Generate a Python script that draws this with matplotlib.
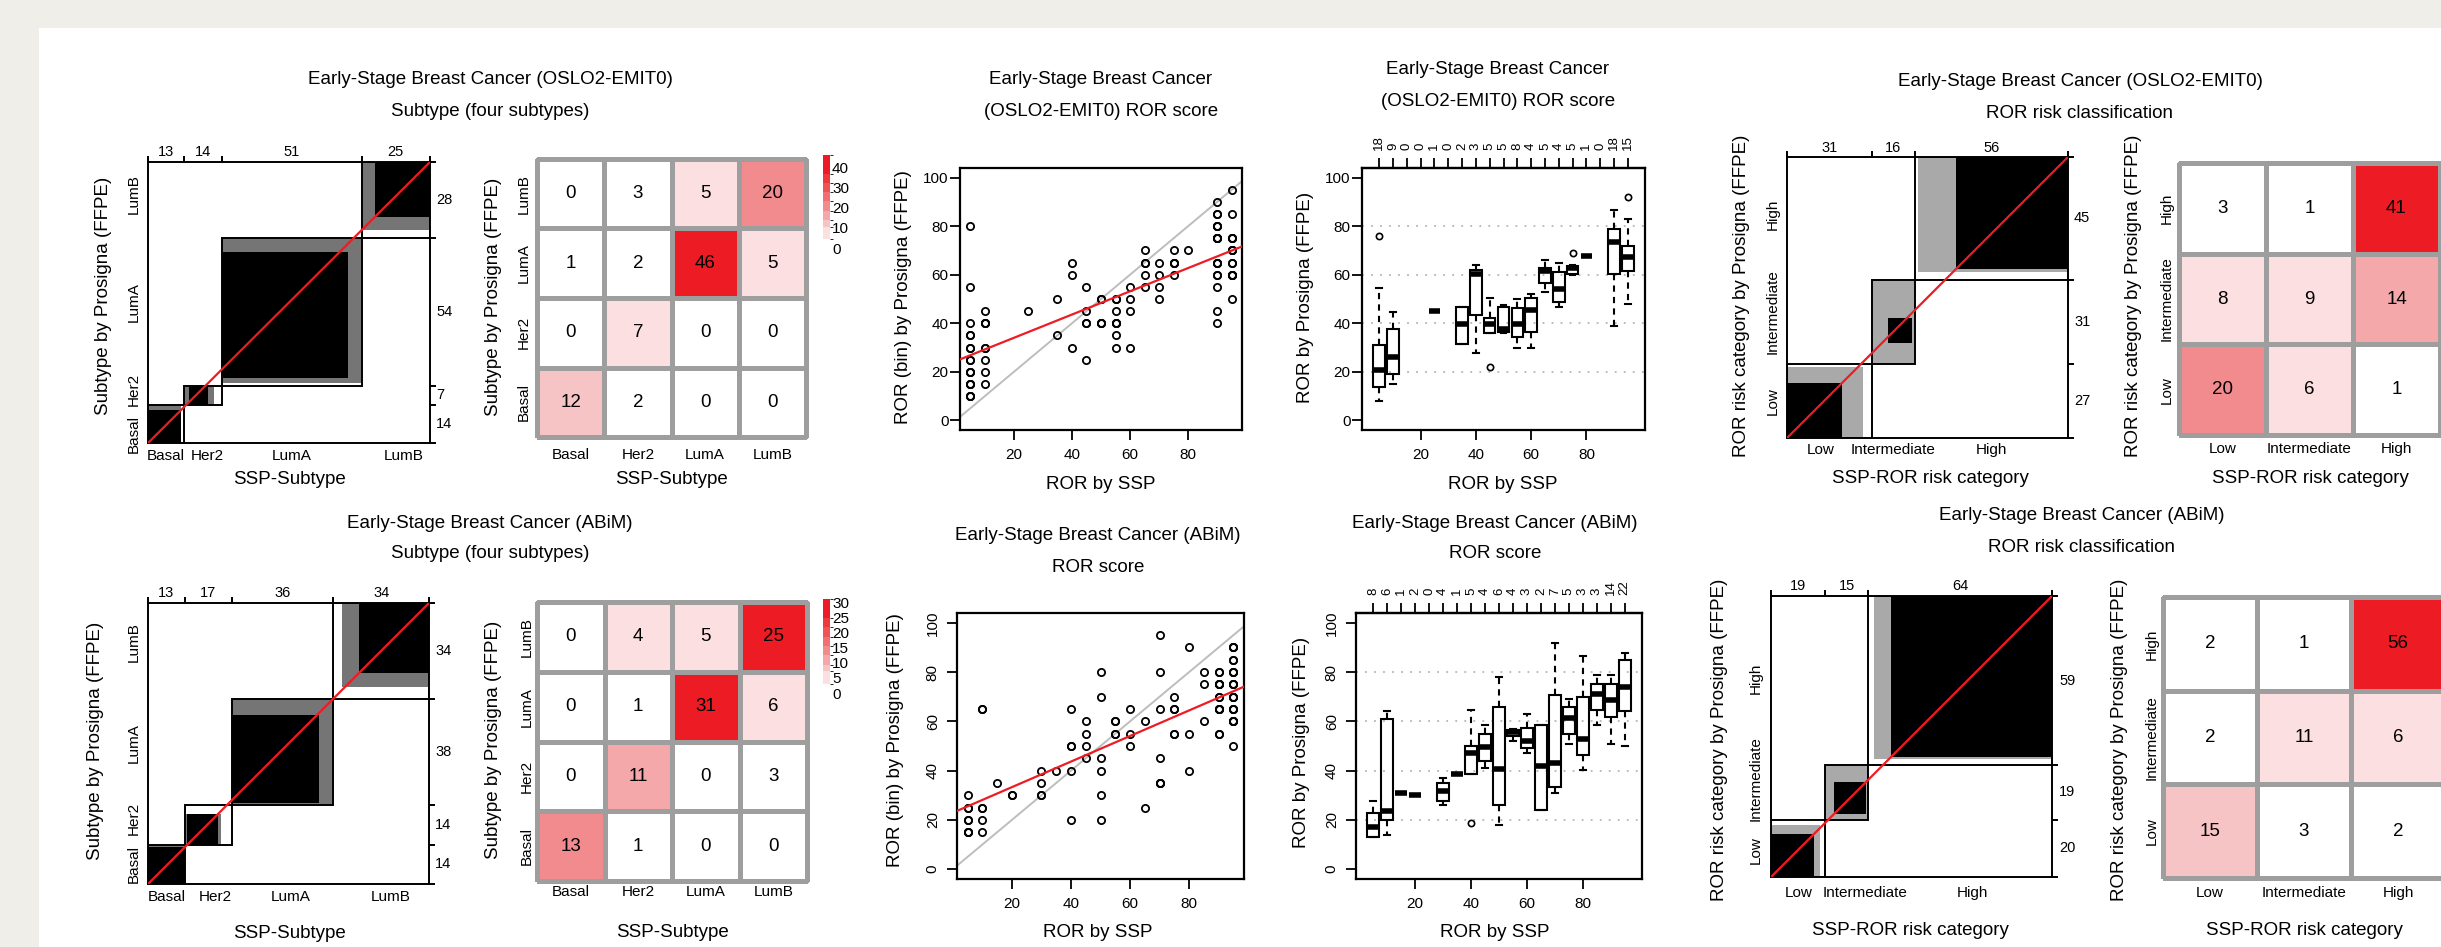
import numpy as np
import matplotlib
matplotlib.use('Agg')
import matplotlib.pyplot as plt
from matplotlib.patches import Rectangle
from matplotlib.colors import ListedColormap, BoundaryNorm
from matplotlib.cm import ScalarMappable

# ---------------------------------------------------------------- data
subtype_cats = ['Basal', 'Her2', 'LumA', 'LumB']
risk_cats = ['Low', 'Intermediate', 'High']

# rows: Prosigna (FFPE) category (bottom -> top); columns: SSP category (left -> right)
oslo_subtype = [[12, 2, 0, 0],
                [0, 7, 0, 0],
                [1, 2, 46, 5],
                [0, 3, 5, 20]]
abim_subtype = [[13, 1, 0, 0],
                [0, 11, 0, 3],
                [0, 1, 31, 6],
                [0, 4, 5, 25]]
oslo_risk = [[20, 6, 1],
             [8, 9, 14],
             [3, 1, 41]]
abim_risk = [[15, 3, 2],
             [2, 11, 6],
             [2, 1, 56]]

ror_bins = [5, 10, 15, 20, 25, 30, 35, 40, 45, 50, 55, 60, 65, 70, 75, 80, 85, 90, 95]
oslo_bin_counts = [18, 9, 0, 0, 1, 0, 2, 3, 5, 5, 8, 4, 5, 4, 5, 1, 0, 18, 15]
abim_bin_counts = [8, 6, 1, 2, 0, 4, 1, 5, 4, 6, 4, 3, 2, 7, 5, 3, 3, 14, 22]

# ROR (bin) by Prosigna, grouped by ROR-by-SSP bin
oslo_ror_bin = {
    5: [80, 55, 40, 35, 35, 30, 30, 25, 25, 20, 20, 20, 15, 15, 15, 10, 10, 10],
    10: [45, 40, 40, 40, 30, 30, 25, 20, 15],
    25: [45],
    35: [50, 35],
    40: [65, 60, 30],
    45: [55, 45, 40, 40, 25],
    50: [50, 50, 40, 40, 40],
    55: [50, 50, 45, 40, 40, 40, 35, 30],
    60: [55, 50, 45, 30],
    65: [70, 65, 65, 60, 55],
    70: [65, 60, 55, 50],
    75: [70, 65, 65, 65, 60],
    80: [70],
    90: [90, 85, 85, 80, 80, 80, 75, 75, 75, 75, 65, 65, 65, 60, 60, 55, 45, 40],
    95: [95, 85, 75, 75, 75, 70, 70, 70, 65, 65, 60, 60, 60, 60, 50],
}
abim_ror_bin = {
    5: [30, 25, 25, 20, 20, 15, 15, 15],
    10: [65, 65, 25, 25, 20, 15],
    15: [35],
    20: [30, 30],
    30: [40, 35, 30, 30],
    35: [40],
    40: [65, 50, 50, 40, 20],
    45: [60, 55, 50, 45],
    50: [80, 70, 45, 40, 30, 20],
    55: [60, 60, 55, 55],
    60: [65, 55, 50],
    65: [60, 25],
    70: [95, 80, 65, 45, 35, 35, 35],
    75: [70, 65, 65, 55, 55],
    80: [90, 55, 40],
    85: [80, 75, 60],
    90: [80, 80, 75, 75, 75, 75, 70, 70, 65, 65, 65, 65, 55, 55],
    95: [90, 90, 90, 85, 85, 80, 80, 80, 75, 75, 75, 70, 70, 70, 65, 65, 65, 60, 60, 60, 60, 50],
}

# box statistics of ROR by Prosigna per SSP bin
oslo_box_pos = [5, 10, 25, 35, 40, 45, 50, 55, 60, 65, 70, 75, 80, 90, 95]
oslo_whislo = [8.0, 15.0, 45, 31.6, 27.8, 35.8, 35.8, 29.8, 29.8, 53.0, 46.8, 60.0, 67.8, 38.9, 48.1]
oslo_q1 = [13.8, 19.0, 45, 31.6, 43.6, 36.0, 36.5, 34.4, 36.5, 56.8, 48.8, 60.1, 67.8, 60.1, 61.5]
oslo_med = [20.6, 26.1, 45, 39.9, 60.1, 39.9, 37.5, 39.9, 45.4, 61.6, 54.3, 62.6, 67.8, 73.6, 67.4]
oslo_q3 = [30.9, 37.8, 45, 46.8, 61.9, 42.0, 46.5, 46.4, 50.5, 62.6, 61.0, 63.7, 67.8, 78.8, 71.8]
oslo_whishi = [54.7, 44.7, 45, 46.8, 64.0, 50.6, 47.5, 50.0, 52.0, 66.0, 65.0, 64.0, 67.8, 86.7, 82.8]
oslo_fliers = {5: [75.9], 45: [22.0], 75: [69.0], 95: [92.2]}

abim_box_pos = [5, 10, 15, 20, 30, 35, 40, 45, 50, 55, 60, 65, 70, 75, 80, 85, 90, 95]
abim_whislo = [12.9, 13.8, 31, 30, 26.0, 38.8, 38.8, 40.9, 18.1, 52.0, 47.0, 24.0, 31.1, 51.0, 40.2, 58.7, 51.0, 50.1]
abim_q1 = [12.9, 19.9, 31, 30, 27.6, 38.8, 38.8, 44.0, 26.0, 54.0, 49.0, 24.0, 33.4, 54.8, 46.3, 64.8, 61.8, 64.1]
abim_med = [17.2, 23.5, 31, 30, 31.7, 38.8, 47.2, 49.7, 40.5, 55.5, 52.0, 41.9, 42.9, 61.2, 53.0, 71.3, 68.6, 74.0]
abim_q3 = [23.0, 60.9, 31, 30, 34.8, 38.8, 49.9, 54.8, 65.9, 56.5, 57.4, 58.7, 70.9, 65.9, 70.0, 75.0, 75.0, 84.8]
abim_whishi = [27.6, 64.1, 31, 30, 37.1, 38.8, 64.8, 58.7, 78.1, 57.0, 62.8, 58.7, 92.0, 69.0, 86.6, 79.0, 79.0, 87.8]
abim_fliers = {40: [18.9]}

# ---------------------------------------------------------------- style
W, H, DPI = 2441, 947, 100
RED = '#ed1c24'
plt.rcParams['font.family'] = ['Liberation Sans', 'DejaVu Sans']
heat_colors = ['#ffffff', '#fbdfe1', '#f7c4c6', '#f4a8aa', '#f28b8d',
               '#f06f72', '#ef5356', '#ee383c', '#ed1c24']
heat_fracs = [0, 0.1, 0.23, 0.3, 0.4, 0.5, 0.6, 0.7, 0.8, 1.0]
heat_cmap = ListedColormap(heat_colors)

fig = plt.figure(figsize=(W / DPI, H / DPI), dpi=DPI)
fig.patch.set_facecolor('#f0eee9')
fig.add_artist(Rectangle((39 / W, 0), 1, 1 - 28 / H, transform=fig.transFigure,
                         fc='white', ec='none', zorder=-10))


def add_ax(x0, y0, x1, y1):
    return fig.add_axes([x0 / W, 1 - y1 / H, (x1 - x0) / W, (y1 - y0) / H])


def ftext(x, y, s, size=13.5, rot=0, ha='center', va='center'):
    fig.text(x / W, 1 - y / H, s, fontsize=size, rotation=rot, ha=ha, va=va)


def agreement(box, tab, cats, gray, off_b=13, off_l=14, off_t=9.5, off_r=6,
              shift_b=None, shift_l=None):
    ax = add_ax(*box)
    T = np.array(tab, float)
    k = len(cats)
    n = T.sum()
    colt = T.sum(axis=0)
    rowt = T.sum(axis=1)
    xc = np.r_[0, np.cumsum(colt)]
    yc = np.r_[0, np.cumsum(rowt)]
    shift_b = shift_b or [0] * k
    shift_l = shift_l or [0] * k
    ax.set_xlim(0, n)
    ax.set_ylim(0, n)
    for i in range(k):
        ax.add_patch(Rectangle((xc[i], yc[i]), colt[i], rowt[i], fc='white', ec='none', zorder=1))
        for j, col in ((2, gray), (1, 'black')):
            lb = max(0, i - j + 1)
            ub = min(k - 1, i + j - 1)
            x0 = xc[i] + T[:lb, i].sum()
            x1 = xc[i] + T[:ub + 1, i].sum()
            y0 = yc[i] + T[i, :lb].sum()
            y1 = yc[i] + T[i, :ub + 1].sum()
            ax.add_patch(Rectangle((x0, y0), x1 - x0, y1 - y0, fc=col, ec='none', zorder=2))
        ax.add_patch(Rectangle((xc[i], yc[i]), colt[i], rowt[i], fc='none', ec='black',
                               lw=1.4, zorder=3))
    ax.plot([0, n], [0, n], color=RED, lw=1.6, zorder=5, solid_capstyle='butt')
    for s in ax.spines.values():
        s.set_linewidth(1.4)
    ax.set_xticks(xc)
    ax.set_yticks(yc)
    ax.tick_params(which='major', top=True, bottom=False, left=False, right=True,
                   labeltop=False, labelbottom=False, labelleft=False, labelright=False,
                   length=4, width=1.4, direction='out')
    for i in range(k):
        mx = (xc[i] + xc[i + 1]) / 2
        my = (yc[i] + yc[i + 1]) / 2
        ax.annotate(f'{int(colt[i])}', xy=(mx, 1), xycoords=('data', 'axes fraction'),
                    xytext=(0, off_t), textcoords='offset pixels', ha='center', va='center',
                    fontsize=10.5)
        ax.annotate(f'{int(rowt[i])}', xy=(1, my), xycoords=('axes fraction', 'data'),
                    xytext=(off_r, 0), textcoords='offset pixels', ha='left', va='center',
                    fontsize=10.5)
        ax.annotate(cats[i], xy=(mx, 0), xycoords=('data', 'axes fraction'),
                    xytext=(shift_b[i], -off_b), textcoords='offset pixels', ha='center',
                    va='center', fontsize=11)
        ax.annotate(cats[i], xy=(0, my), xycoords=('axes fraction', 'data'),
                    xytext=(-off_l, shift_l[i]), textcoords='offset pixels', ha='center',
                    va='center', fontsize=11, rotation=90)
    return ax


def heat_norm(tab):
    vmax = np.max(tab)
    return BoundaryNorm(np.array(heat_fracs) * vmax, heat_cmap.N)


def heatmap(box, tab, cats, xpad, ypad):
    ax = add_ax(*box)
    T = np.array(tab)
    k = len(cats)
    norm = heat_norm(T)
    mesh = ax.pcolormesh(np.arange(k + 1), np.arange(k + 1), T, cmap=heat_cmap, norm=norm,
                         edgecolors='#9e9e9e', linewidth=2.2)
    mesh.set_clip_on(False)
    for r in range(k):
        for c in range(k):
            ax.text(c + 0.5, r + 0.5, str(T[r, c]), ha='center', va='center', fontsize=13.5)
    ax.set_xlim(0, k)
    ax.set_ylim(0, k)
    for s in ax.spines.values():
        s.set_visible(False)
    ax.set_xticks(np.arange(k) + 0.5)
    ax.set_xticklabels(cats, fontsize=11)
    ax.set_yticks(np.arange(k) + 0.5)
    ax.set_yticklabels(cats, fontsize=11, rotation=90, va='center')
    ax.tick_params(length=0)
    ax.tick_params(axis='x', pad=xpad)
    ax.tick_params(axis='y', pad=ypad)
    return ax, norm


def colorbar(box, norm, ticks):
    cax = add_ax(*box)
    cb = fig.colorbar(ScalarMappable(norm=norm, cmap=heat_cmap), cax=cax,
                      spacing='proportional')
    cb.outline.set_visible(False)
    cb.set_ticks(ticks)
    cb.set_ticklabels([str(t) for t in ticks])
    cax.tick_params(length=0, pad=1.5, labelsize=11)


def style_numeric(ax, rot_y, ypad, xpad):
    for s in ax.spines.values():
        s.set_linewidth(1.6)
    ax.set_xticks([20, 40, 60, 80])
    ax.set_yticks([0, 20, 40, 60, 80, 100])
    ax.tick_params(length=7, width=1.3, labelsize=11)
    ax.tick_params(axis='x', pad=xpad)
    ax.tick_params(axis='y', pad=ypad)
    if rot_y:
        ax.set_yticklabels(['0', '20', '40', '60', '80', '100'], rotation=90, va='center')


def scatter_panel(box, data, rot_y, ypad, xpad):
    ax = add_ax(*box)
    xs, ys = [], []
    for x, yl in data.items():
        xs += [x] * len(yl)
        ys += yl
    xs = np.array(xs, float)
    ys = np.array(ys, float)
    ax.plot(xs, ys, 'o', mfc='none', mec='black', ms=5.2, mew=1.3, zorder=3)
    ax.axline((0, 0), slope=1, color='#bdbdbd', lw=1.4, zorder=2)
    b, a = np.polyfit(xs, ys, 1)
    ax.axline((0, a), slope=b, color=RED, lw=1.6, zorder=4)
    ax.set_xlim(1.4, 98.6)
    ax.set_ylim(-4, 104)
    style_numeric(ax, rot_y, ypad, xpad)
    return ax


def box_panel(box, pos, wlo, q1, med, q3, whi, fliers, counts, rot_y, ypad, xpad):
    ax = add_ax(*box)
    for g in (20, 40, 60, 80):
        ax.axhline(g, color='#b5b5b5', lw=1.3, ls=(0, (1, 4)), zorder=1)
    stats = []
    for i, p in enumerate(pos):
        stats.append(dict(whislo=wlo[i], q1=q1[i], med=med[i], q3=q3[i], whishi=whi[i],
                          fliers=fliers.get(p, [])))
    ax.bxp(stats, positions=pos, widths=4.2, capwidths=2.1, manage_ticks=False,
           patch_artist=True,
           boxprops=dict(facecolor='none', edgecolor='black', linewidth=1.5),
           medianprops=dict(color='black', linewidth=4.0, solid_capstyle='butt'),
           whiskerprops=dict(color='black', linewidth=1.5, linestyle=(0, (3, 2.5))),
           capprops=dict(color='black', linewidth=1.5),
           flierprops=dict(marker='o', mfc='none', mec='black', ms=4.5, mew=1.2))
    ax.set_xlim(-1.2, 101.2)
    ax.set_ylim(-4, 104)
    style_numeric(ax, rot_y, ypad, xpad)
    sec = ax.secondary_xaxis('top')
    sec.set_xticks(ror_bins)
    sec.set_xticklabels([str(c) for c in counts], rotation=90, fontsize=9.5)
    sec.tick_params(length=7, width=1.3, pad=6)
    sec.spines['top'].set_linewidth(1.6)
    return ax


# ---------------------------------------------------------------- top row (OSLO2-EMIT0)
GRAY4 = '#757575'
GRAY3 = '#a9a9a9'

agreement((148, 162, 430, 443), oslo_subtype, subtype_cats, GRAY4,
          shift_b=[0, 5, 0, 8], shift_l=[-10, 6, 10, 6])
ax, nrm = heatmap((537, 159, 806, 437), oslo_subtype, subtype_cats, xpad=7.6, ypad=4.7)
colorbar((823, 155, 830, 248), nrm, [0, 10, 20, 30, 40])
scatter_panel((960, 168, 1242, 430), oslo_ror_bin, False, 1.2, 5.7)
box_panel((1362, 168, 1645, 430), oslo_box_pos, oslo_whislo, oslo_q1, oslo_med, oslo_q3,
          oslo_whishi, oslo_fliers, oslo_bin_counts, False, 1.2, 5.7)
agreement((1787, 157, 2068, 438), oslo_risk, risk_cats, GRAY3, off_b=12, off_l=14, off_t=9, off_r=6,
          shift_b=[-9, 0, 0], shift_l=[0, 10, 4])
heatmap((2179, 163, 2440, 435), oslo_risk, risk_cats, xpad=4.8, ypad=3.6)

# ---------------------------------------------------------------- bottom row (ABiM)
agreement((148, 603, 429, 884), abim_subtype, subtype_cats, GRAY4, off_b=13, off_l=14, off_t=10, off_r=6,
          shift_b=[0, 7, 8, 9], shift_l=[0, 7, 9, 9])
ax, nrm = heatmap((537, 602, 807, 881), abim_subtype, subtype_cats, xpad=2.6, ypad=2.0)
colorbar((823, 599, 830, 693), nrm, [0, 5, 10, 15, 20, 25, 30])
scatter_panel((957, 613, 1244, 879), abim_ror_bin, True, 5.4, 6.2)
box_panel((1356, 613, 1642, 879), abim_box_pos, abim_whislo, abim_q1, abim_med, abim_q3,
          abim_whishi, abim_fliers, abim_bin_counts, True, 5.4, 6.2)
agreement((1771, 596, 2052, 877), abim_risk, risk_cats, GRAY3, off_b=16, off_l=15, off_t=10, off_r=7,
          shift_b=[0, 18, 12], shift_l=[-2, 14, 2])
heatmap((2163, 597, 2445, 878), abim_risk, risk_cats, xpad=5.5, ypad=3.0)

# ---------------------------------------------------------------- titles & axis labels
ftext(490, 79, 'Early-Stage Breast Cancer (OSLO2-EMIT0)')
ftext(490, 111, 'Subtype (four subtypes)')
ftext(1101, 79, 'Early-Stage Breast Cancer')
ftext(1101, 111, '(OSLO2-EMIT0) ROR score')
ftext(1498, 70, 'Early-Stage Breast Cancer')
ftext(1498, 101, '(OSLO2-EMIT0) ROR score')
ftext(2080, 81, 'Early-Stage Breast Cancer (OSLO2-EMIT0)')
ftext(2080, 113, 'ROR risk classification')

ftext(490, 523, 'Early-Stage Breast Cancer (ABiM)')
ftext(490, 553, 'Subtype (four subtypes)')
ftext(1098, 535, 'Early-Stage Breast Cancer (ABiM)')
ftext(1098, 567, 'ROR score')
ftext(1495, 523, 'Early-Stage Breast Cancer (ABiM)')
ftext(1495, 553, 'ROR score')
ftext(2082, 515, 'Early-Stage Breast Cancer (ABiM)')
ftext(2082, 547, 'ROR risk classification')

# x labels
ftext(289, 479, 'SSP-Subtype')
ftext(671, 479, 'SSP-Subtype')
ftext(1101, 484, 'ROR by SSP')
ftext(1503, 484, 'ROR by SSP')
ftext(1930, 478, 'SSP-ROR risk category')
ftext(2310, 478, 'SSP-ROR risk category')
ftext(289, 933, 'SSP-Subtype')
ftext(672, 932, 'SSP-Subtype')
ftext(1098, 932, 'ROR by SSP')
ftext(1495, 932, 'ROR by SSP')
ftext(1910, 930, 'SSP-ROR risk category')
ftext(2304, 930, 'SSP-ROR risk category')

# y labels
ftext(103, 296, 'Subtype by Prosigna (FFPE)', rot=90)
ftext(493, 297, 'Subtype by Prosigna (FFPE)', rot=90)
ftext(903, 297, 'ROR (bin) by Prosigna (FFPE)', rot=90)
ftext(1305, 297, 'ROR by Prosigna (FFPE)', rot=90)
ftext(1742, 296, 'ROR risk category by Prosigna (FFPE)', rot=90)
ftext(2133, 296, 'ROR risk category by Prosigna (FFPE)', rot=90)
ftext(95, 741, 'Subtype by Prosigna (FFPE)', rot=90)
ftext(493, 740, 'Subtype by Prosigna (FFPE)', rot=90)
ftext(896, 740, 'ROR (bin) by Prosigna (FFPE)', rot=90)
ftext(1302, 742, 'ROR by Prosigna (FFPE)', rot=90)
ftext(1720, 740, 'ROR risk category by Prosigna (FFPE)', rot=90)
ftext(2120, 740, 'ROR risk category by Prosigna (FFPE)', rot=90)

fig.savefig('out.png', dpi=DPI, facecolor=fig.get_facecolor())
